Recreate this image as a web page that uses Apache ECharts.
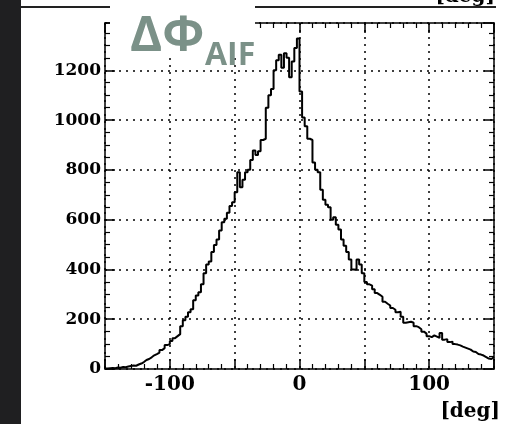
<!DOCTYPE html>
<html><head><meta charset="utf-8">
<script src="https://cdn.jsdelivr.net/npm/echarts@6/dist/echarts.min.js"></script>
<style>html,body{margin:0;padding:0;background:#fff}#c{width:507px;height:424px}</style>
</head><body><div id="c"></div>
<script>
// ---- data ----
const binStart = -150;
const binWidth = 2;
// counts per 2-deg bin, bins -150 .. -2
const countsNeg = [2,3,4,3,6,5,8,7,10,12,
  14,13,18,22,28,36,40,47,55,60,
  66,76,84,96,100,112,124,132,140,172,
  196,210,228,240,276,295,308,340,385,420,
  432,470,498,520,556,590,604,628,655,670,
  710,790,730,760,790,800,840,878,860,875,
  920,925,1050,1100,1125,1200,1240,1262,1210,1268,
  1250,1172,1235,1290,1328];
// counts per 2-deg bin, bins 0 .. 148
const countsPos = [1115,1010,975,925,920,830,800,790,720,680,
  660,650,600,610,580,560,520,495,470,440,
  400,398,440,420,385,350,340,335,320,305,
  298,290,270,262,255,245,238,228,230,210,
  186,188,190,186,172,168,160,150,142,132,
  128,135,130,125,145,118,120,108,110,100,
  98,95,90,86,82,78,70,68,60,58,
  54,48,42,40,48];
const xTickLabels = [-100, 0, 100];
const yTickLabels = [0, 200, 400, 600, 800, 1000, 1200];
const xMin = -150, xMax = 150, yMin = 0, yMax = 1390;

// ---- build ----
const counts = countsNeg.concat(countsPos);
const pts = counts.map((v, i) => [binStart + i * binWidth, v]);
pts.push([binStart + counts.length * binWidth, counts[counts.length - 1]]);

const serif = 'DejaVu Serif';
const dotted = {color: '#000', width: 1.5, type: [2, 5]};
function xAx(pos, labels) {
  return {
    type: 'value', position: pos, min: xMin, max: xMax, interval: 50,
    axisLine: {show: true, onZero: false, lineStyle: {color: '#000', width: 1.5}},
    axisTick: {show: true, inside: true, length: 10, lineStyle: {color: '#000', width: 1.5}},
    minorTick: {show: true, splitNumber: 5, length: 5, lineStyle: {color: '#000', width: 1.2}},
    splitLine: {show: labels, lineStyle: dotted},
    minorSplitLine: {show: false},
    axisLabel: {show: labels, margin: 6, fontFamily: serif, fontWeight: 'bold', fontSize: 20, color: '#000',
      showMinLabel: true, showMaxLabel: true,
      formatter: v => xTickLabels.includes(v) ? String(v) : ''}
  };
}
function yAx(pos, labels) {
  return {
    type: 'value', position: pos, min: yMin, max: yMax, interval: 200,
    axisLine: {show: true, onZero: false, lineStyle: {color: '#000', width: 1.5}},
    axisTick: {show: true, inside: true, length: 10, lineStyle: {color: '#000', width: 1.5}},
    minorTick: {show: true, splitNumber: 4, length: 5, lineStyle: {color: '#000', width: 1.2}},
    splitLine: {show: labels, lineStyle: dotted},
    minorSplitLine: {show: false},
    axisLabel: {show: labels, margin: 4, fontFamily: serif, fontWeight: 'bold', fontSize: 17, color: '#000',
      showMaxLabel: false,
      formatter: v => yTickLabels.includes(v) ? String(v) : ''}
  };
}

const chart = echarts.init(document.getElementById('c'), null, {renderer: 'canvas'});
chart.setOption({
  animation: false,
  backgroundColor: '#fff',
  grid: {left: 105, right: 13, top: 23, bottom: 55, containLabel: false},
  xAxis: [xAx('bottom', true), xAx('top', false)],
  yAxis: [yAx('left', true), yAx('right', false)],
  series: [{
    type: 'line', step: 'end', data: pts, xAxisIndex: 0, yAxisIndex: 0,
    showSymbol: false, symbol: 'none', z: 5,
    lineStyle: {color: '#000', width: 2}
  }],
  graphic: [
    {type: 'rect', shape: {x: 0, y: 0, width: 21, height: 424}, style: {fill: '#1f1f21'}, z: 100},
    {type: 'line', shape: {x1: 21, y1: 7, x2: 496, y2: 7}, style: {stroke: '#222', lineWidth: 2}, z: 100},
    {type: 'text', z: 100, style: {text: '[deg]', x: 495, y: 7, align: 'right', verticalAlign: 'bottom',
      font: 'bold 20px "DejaVu Serif"', fill: '#000'}},
    {type: 'rect', shape: {x: 110, y: 0, width: 145, height: 57}, style: {fill: '#fff'}, z: 101},
    {type: 'text', z: 102, style: {text: 'ΔΦ', x: 130, y: 37, align: 'left', verticalAlign: 'middle',
      font: 'bold 49px "Open Sans"', fill: '#7b9188'}},
    {type: 'text', z: 102, style: {text: 'AIF', x: 205, y: 56, align: 'left', verticalAlign: 'middle',
      font: 'bold 32px "Open Sans"', fill: '#7b9188'}},
    {type: 'text', z: 100, style: {text: '[deg]', x: 500, y: 402, align: 'right', verticalAlign: 'top',
      font: 'bold 20px "DejaVu Serif"', fill: '#000'}}
  ]
});
</script>
</body></html>
